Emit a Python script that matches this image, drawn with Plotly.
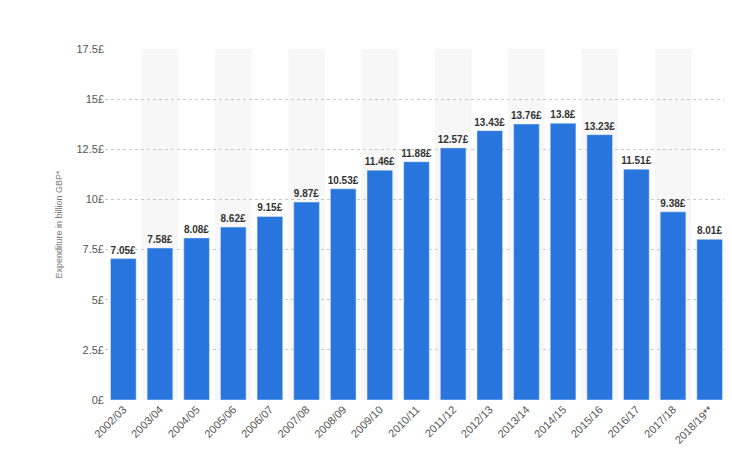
import plotly.graph_objects as go

categories = ["2002/03","2003/04","2004/05","2005/06","2006/07","2007/08","2008/09","2009/10","2010/11","2011/12","2012/13","2013/14","2014/15","2015/16","2016/17","2017/18","2018/19**"]
values = [7.05,7.58,8.08,8.62,9.15,9.87,10.53,11.46,11.88,12.57,13.43,13.76,13.8,13.23,11.51,9.38,8.01]
labels = ["7.05£","7.58£","8.08£","8.62£","9.15£","9.87£","10.53£","11.46£","11.88£","12.57£","13.43£","13.76£","13.8£","13.23£","11.51£","9.38£","8.01£"]
tickvals = [0,2.5,5,7.5,10,12.5,15,17.5]
ticktext = ["0£","2.5£","5£","7.5£","10£","12.5£","15£","17.5£"]

fig = go.Figure(go.Bar(x=list(range(len(categories))), y=values,
    text=["<b>%s</b>" % t for t in labels], textposition="outside",
    marker_color="#2876dd", width=0.7, cliponaxis=False, constraintext="none",
    textfont=dict(size=10, color="#333333", family="Arial, Liberation Sans")))

shapes = []
for i in range(1, len(categories), 2):
    shapes.append(dict(type="rect", xref="x", yref="paper", x0=i-0.5, x1=i+0.5, y0=0, y1=1,
                       fillcolor="#f7f7f7", line_width=0, layer="below"))
fig.update_layout(
    width=732, height=468, margin=dict(l=97, r=12, t=41, b=76),
    plot_bgcolor="white", paper_bgcolor="white", shapes=shapes, showlegend=False,
    font=dict(family="Arial, Liberation Sans", color="#666666", size=11),
    uniformtext=dict(minsize=10, mode="show"),
    xaxis=dict(tickmode="array", tickvals=list(range(len(categories))), ticktext=categories,
               tickangle=-45, range=[-0.5, len(categories)-0.5], showgrid=False, automargin=False,
               tickfont=dict(size=11, color="#555555")),
    yaxis=dict(range=[0,17.5], tickvals=tickvals, ticktext=ticktext, showgrid=True, automargin=False,
               gridcolor="#c8c8c8", griddash="dot", zeroline=False,
               title=dict(text="Expenditure in billion GBP*", font=dict(size=9, color="#777777"), standoff=12),
               tickfont=dict(size=11, color="#555555")),
)
fig.write_html("out.html")
